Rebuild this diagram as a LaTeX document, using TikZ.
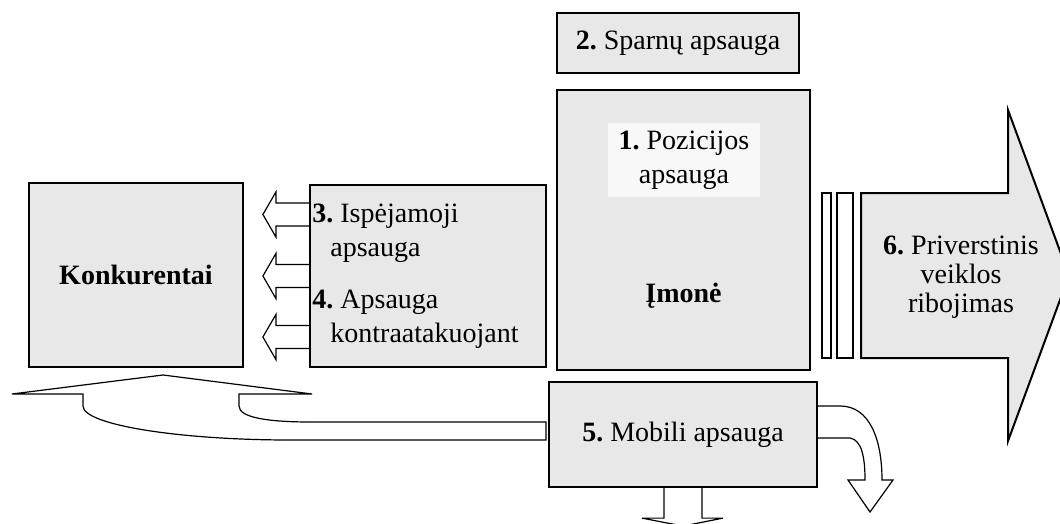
\documentclass[tikz,border=0pt]{standalone}
\usepackage{fontspec}
\setmainfont{Liberation Serif}
\usepackage{xcolor}
\usepackage{tikz}
\usetikzlibrary{positioning}
\frenchspacing
\definecolor{boxfill}{HTML}{E8E8E8}
\definecolor{tagfill}{HTML}{F8F8F8}
\tikzset{
  box/.style={draw=black, line width=1.1pt, fill=boxfill, inner sep=0pt, align=center},
  tagbox/.style={fill=tagfill, inner sep=0pt, align=center},
  txt/.style={inner sep=0pt, align=left},
  hollow/.style={draw=black, line width=0.6pt, fill=white},
  bigarrow/.style={draw=black, line width=1pt, fill=boxfill},
  leftarrow/.pic={\draw[hollow] (0,-11.5) -- (-33,-11.5) -- (-33,-22.5) -- (-46,0) -- (-33,22.5) -- (-33,11.5) -- (0,11.5);},
  downarrow/.pic={\draw[hollow] (-19,0) -- (-19,30) -- (-41,30) -- (0,38) -- (40,30) -- (19,30) -- (19,0);}
}

\begin{document}
\begin{tikzpicture}[x=0.5pt, y=-0.5pt, font=\fontsize{14}{17}\selectfont]
  \useasboundingbox (0,0) rectangle (1060,524);

  \node[box, minimum width=107pt, minimum height=92pt] (rivals) at (136,275) {\textbf{Konkurentai}};
  \node[box, minimum width=121pt, minimum height=30pt] (flank) at (678,43) {\textbf{2.} Sparnų apsauga};
  \node[box, minimum width=126.5pt, minimum height=140pt] (firm) at (683.5,230) {};
  \node[tagbox, minimum width=76pt, minimum height=37pt] (position) at (684,160) {\textbf{1.} Pozicijos\\apsauga};
  \node (firmname) at (683.5,296) {\textbf{Įmonė}};

  \node[box, minimum width=118pt, minimum height=91pt] (defence) at (428,276) {};
  \node[txt, anchor=west] (preempt) at (312,233) {\textbf{3.} Ispėjamoji\\\hspace*{9pt}apsauga};
  \node[txt, anchor=west] (counter) at (312,319) {\textbf{4.} Apsauga\\\hspace*{9pt}kontraatakuojant};
  \path (defence.west) ++(0,-61.5) pic {leftarrow};
  \path (defence.west) pic {leftarrow};
  \path (defence.west) ++(0,61) pic {leftarrow};

  \node[box, minimum width=134pt, minimum height=52.5pt] (mobile) at (683,434.5) {\textbf{5.} Mobili apsauga};
  \path (mobile.south) pic {downarrow};
  \draw[hollow] (mobile.east |- 0,406) -- (840,406) .. controls (870,406) and (882,440) .. (882,480)
    -- (893,480) -- (870,512) -- (848,480) -- (865,480)
    .. controls (865,458) and (862,440) .. (850,438) -- (mobile.east |- 0,438);
  \draw[hollow] (546,422) -- (311,422) .. controls (270,422) and (239,418) .. (239,406) -- (239,394)
    -- (312,394) -- (163,375) -- (12,394) -- (83,394) -- (83,406)
    .. controls (83,425) and (180,440) .. (290,440) -- (546,440) -- cycle;

  \draw[bigarrow, fill=white] (822,193) rectangle (831,358);
  \draw[bigarrow, fill=white] (837,193) rectangle (853,358);
  \draw[bigarrow] (861,193) -- (1008,193) -- (1008,110) -- (1069,275.5) -- (1008,441) -- (1008,358) -- (861,358) -- cycle;
  \node[align=center, font=\fontsize{14}{14.5}\selectfont] (restrict) at (961,277) {\textbf{6.} Priverstinis\\veiklos\\ribojimas};
\end{tikzpicture}
\end{document}
